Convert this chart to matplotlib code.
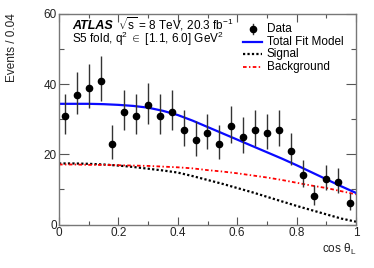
import numpy as np
import matplotlib
matplotlib.use('Agg')
import matplotlib.pyplot as plt
from matplotlib.ticker import MultipleLocator

plt.rcParams['font.family'] = ['Liberation Sans', 'DejaVu Sans']
plt.rcParams['mathtext.fontset'] = 'custom'
plt.rcParams['mathtext.rm'] = 'Liberation Sans'
plt.rcParams['mathtext.it'] = 'Liberation Sans:italic'
plt.rcParams['mathtext.bf'] = 'Liberation Sans:bold'

# 数据点（每 0.04 一个 bin）
bin_centres = [0.02, 0.06, 0.10, 0.14, 0.18, 0.22, 0.26, 0.30, 0.34, 0.38, 0.42, 0.46, 0.50,
               0.54, 0.58, 0.62, 0.66, 0.70, 0.74, 0.78, 0.82, 0.86, 0.90, 0.94, 0.98]
events = [31, 37, 39, 41, 23, 32, 31, 34, 31, 32, 27, 24, 26,
          23, 28, 25, 27, 26, 27, 21, 14, 8, 13, 12, 6]
err_lo = [5.1, 5.6, 5.8, 5.9, 4.3, 5.2, 5.1, 5.4, 5.1, 5.2, 4.7, 4.4, 4.6,
          4.3, 4.8, 4.5, 4.7, 4.6, 4.7, 4.1, 3.3, 2.4, 3.1, 3.0, 2.0]
err_hi = [6.1, 6.6, 6.8, 6.9, 5.3, 6.2, 6.1, 6.4, 6.1, 6.2, 5.7, 5.4, 5.6,
          5.3, 5.8, 5.5, 5.7, 5.6, 5.7, 5.1, 4.3, 3.4, 4.1, 4.0, 3.0]

# 拟合曲线
curve_x = [0.00, 0.05, 0.10, 0.15, 0.20, 0.25, 0.30, 0.35, 0.40, 0.45, 0.50,
           0.55, 0.60, 0.65, 0.70, 0.75, 0.80, 0.85, 0.90, 0.95, 1.00]
total_fit = [34.4, 34.4, 34.4, 34.3, 34.1, 33.8, 33.3, 32.4, 31.2, 29.6, 27.8,
             26.0, 24.2, 22.4, 20.6, 18.8, 16.9, 14.9, 12.9, 10.9, 9.0]
signal = [17.4, 17.4, 17.3, 17.1, 16.8, 16.4, 15.9, 15.4, 14.8, 13.8, 12.7,
          11.6, 10.4, 9.2, 7.9, 6.6, 5.3, 4.1, 2.9, 1.7, 0.8]
background = [17.1, 17.1, 17.0, 17.0, 16.9, 16.8, 16.7, 16.5, 16.3, 16.0, 15.5,
              15.1, 14.6, 14.0, 13.4, 12.7, 11.9, 11.1, 10.4, 9.5, 8.6]

# 刻度
x_ticks = [0, 0.2, 0.4, 0.6, 0.8, 1.0]
x_tick_labels = ['0', '0.2', '0.4', '0.6', '0.8', '1']
y_ticks = [0, 20, 40, 60]
y_tick_labels = ['0', '20', '40', '60']

# 线型
sig_style = dict(color='black', lw=1.6, linestyle=(0, (1, 1)))
bkg_style = dict(color='red', lw=1.3, linestyle=(0, (2, 1.3, 0.8, 1.3)))
tot_style = dict(color='#0a0aff', lw=1.6, linestyle='-')

fs = 8.5
fig = plt.figure(figsize=(3.74, 2.68), dpi=100)
ax = fig.add_axes([59 / 374, 1 - 224.5 / 268, 297 / 374, 210.5 / 268])

ax.plot(curve_x, signal, **sig_style)
ax.plot(curve_x, background, **bkg_style)
ax.plot(curve_x, total_fit, **tot_style)
ax.errorbar(bin_centres, events, yerr=[err_lo, err_hi], fmt='o', color='black',
            ecolor='#333333', elinewidth=1.0, capsize=0, markersize=4.5)

ax.set_xlim(0, 1)
ax.set_ylim(0, 60)
ax.set_xticks(x_ticks)
ax.set_xticklabels(x_tick_labels)
ax.set_yticks(y_ticks)
ax.set_yticklabels(y_tick_labels)
ax.xaxis.set_minor_locator(MultipleLocator(0.1))
ax.yaxis.set_minor_locator(MultipleLocator(10))
ax.tick_params(which='both', direction='in', top=True, right=True, color='#555555',
               labelsize=fs, labelcolor='#222222', width=0.8)
ax.tick_params(axis='x', which='major', length=6)
ax.tick_params(axis='x', which='minor', length=3)
ax.tick_params(axis='y', which='major', length=7)
ax.tick_params(axis='y', which='minor', length=3.5)
ax.tick_params(axis='x', pad=2)
ax.tick_params(axis='y', pad=1.5)
for s in ax.spines.values():
    s.set_color('#777777')
    s.set_linewidth(1.0)

fig.text(12 / 374, 1 - 13 / 268, 'Events / 0.04', rotation=90, ha='center', va='top',
         fontsize=fs, color='#222222')
fig.text(356 / 374, 1 - 249 / 268, r'cos θ$_{\mathrm{L}}$', ha='right', va='center',
         fontsize=fs, color='#222222')

# ATLAS 标签
ax.text(0.045, 0.927, 'ATLAS', transform=ax.transAxes, fontsize=fs + 0.5,
        fontweight='bold', fontstyle='italic', va='baseline')
ax.text(0.2, 0.927, r'$\sqrt{\mathrm{s}}$ = 8 TeV, 20.3 fb$^{-1}$', transform=ax.transAxes,
        fontsize=fs, va='baseline')
ax.text(0.045, 0.862, r'S5 fold, q$^{2}$ $\in$ [1.1, 6.0] GeV$^{2}$', transform=ax.transAxes,
        fontsize=fs, va='baseline')

# 手动图例
leg_rows = [0.929, 0.867, 0.808, 0.748]
leg_labels = ['Data', 'Total Fit Model', 'Signal', 'Background']
h0, h1, tx = 0.62, 0.684, 0.70
ax.plot([0.652, 0.652], [leg_rows[0] - 0.022, leg_rows[0] + 0.022], color='#333333', lw=1.0,
        transform=ax.transAxes, clip_on=False)
ax.plot([0.652], [leg_rows[0]], 'o', color='black', markersize=4.5, transform=ax.transAxes, clip_on=False)
for yy, st in zip(leg_rows[1:], [tot_style, sig_style, bkg_style]):
    ax.plot([h0, h1], [yy, yy], transform=ax.transAxes, clip_on=False, **st)
for yy, lab in zip(leg_rows, leg_labels):
    ax.text(tx, yy, lab, transform=ax.transAxes, fontsize=fs, va='center', ha='left')

fig.savefig('out.png', dpi=100)
